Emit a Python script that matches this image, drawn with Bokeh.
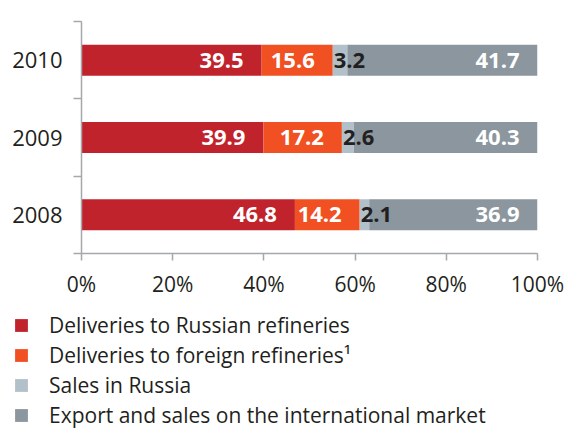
from bokeh.plotting import figure
from bokeh.layouts import column
from bokeh.models import (ColumnDataSource, Range1d, FixedTicker, Legend, LegendItem)
from bokeh.core.properties import value
from bokeh.embed import file_html
from bokeh.resources import INLINE

years = ["2008", "2009", "2010"]
series_names = ["Deliveries to Russian refineries",
                "Deliveries to foreign refineries\u00b9",
                "Sales in Russia",
                "Export and sales on the international market"]
russian_refineries = [46.8, 39.9, 39.5]
foreign_refineries = [14.2, 17.2, 15.6]
sales_russia = [2.1, 2.6, 3.2]
export_sales = [36.9, 40.3, 41.7]
x_ticks = [0, 20, 40, 60, 80, 100]
x_tick_labels = ["0%", "20%", "40%", "60%", "80%", "100%"]

colors = ["#c1232d", "#f15022", "#b2c0c9", "#8b969e"]
keys = ["rus", "for", "sal", "exp"]
FONT = "Open Sans"
TXT = "#231f20"
AX = "#a5a7aa"

ypos = [i + 0.5 for i in range(len(years))]
data = dict(y=ypos, rus=russian_refineries, **{"for": foreign_refineries},
            sal=sales_russia, exp=export_sales)
source = ColumnDataSource(data)

p = figure(width=567, height=300, output_backend="svg", toolbar_location=None,
           x_range=Range1d(0, 100), y_range=Range1d(0, len(years)),
           min_border_left=81, min_border_right=30, min_border_top=21,
           min_border_bottom=47)
p.outline_line_color = None
p.xgrid.visible = False
p.ygrid.visible = False
p.background_fill_color = "white"
p.border_fill_color = "white"

renderers = p.hbar_stack(keys, y="y", height=0.4, color=colors, source=source,
                         line_color=None)

# value labels
lab_x, lab_y, lab_t, lab_align, lab_col, lab_off = [], [], [], [], [], []
vals = [russian_refineries, foreign_refineries, sales_russia, export_sales]
for i in range(len(years)):
    left = 0.0
    for s, arr in enumerate(vals):
        v = arr[i]
        if s == 2:
            lab_x.append(left); lab_align.append("left"); lab_col.append(TXT); lab_off.append(1)
        else:
            lab_x.append(left + v); lab_align.append("right"); lab_col.append("white"); lab_off.append(-18)
        lab_y.append(ypos[i]); lab_t.append(f"{v:.1f}")
        left += v
lsrc = ColumnDataSource(dict(x=lab_x, y=lab_y, t=lab_t, a=lab_align, c=lab_col, o=lab_off))
p.text(x="x", y="y", text="t", source=lsrc, text_align="a", text_color="c",
       x_offset="o", text_baseline="middle", text_font=value(FONT),
       text_font_style="bold", text_font_size="22px")

# x axis
xa = p.xaxis[0]
xa.ticker = FixedTicker(ticks=x_ticks)
xa.major_label_overrides = {t: l for t, l in zip(x_ticks, x_tick_labels)}
xa.minor_tick_line_color = None
xa.major_tick_out = 7
xa.major_tick_in = 0
xa.axis_line_color = AX
xa.major_tick_line_color = AX
xa.axis_line_width = 1.5
xa.major_tick_line_width = 1.5
xa.major_label_text_font = FONT
xa.major_label_text_font_size = "21px"
xa.major_label_text_color = TXT
xa.major_label_standoff = 9

# y axis
ya = p.yaxis[0]
ya.ticker = FixedTicker(ticks=ypos, minor_ticks=list(range(len(years) + 1)))
ya.major_label_overrides = {y: t for y, t in zip(ypos, years)}
ya.major_tick_out = 0
ya.major_tick_in = 0
ya.minor_tick_out = 8
ya.minor_tick_in = 0
ya.axis_line_color = AX
ya.minor_tick_line_color = AX
ya.axis_line_width = 1.5
ya.minor_tick_line_width = 1.5
ya.major_label_text_font = FONT
ya.major_label_text_font_size = "22px"
ya.major_label_text_color = TXT
ya.major_label_standoff = 11

# legend panel
pl = figure(width=567, height=130, output_backend="svg", toolbar_location=None,
            x_range=Range1d(0, 1), y_range=Range1d(0, 1),
            min_border_left=0, min_border_right=0, min_border_top=0, min_border_bottom=0)
pl.axis.visible = False
pl.grid.visible = False
pl.outline_line_color = None
pl.border_fill_color = "white"
for fig in (p, pl):
    try:
        fig.frame_align = False
    except Exception:
        pass
offscreen = ColumnDataSource(dict(x=[-5], y=[-5]))
swatches = [pl.rect(x="x", y="y", width=0.1, height=0.1, fill_color=c, line_color=None,
                    source=offscreen) for c in colors]
legend = Legend(items=[LegendItem(label=n, renderers=[r]) for n, r in zip(series_names, swatches)],
                location=(13, 0), orientation="vertical",
                glyph_width=16, glyph_height=16, label_height=30, spacing=0,
                padding=0, margin=0, label_standoff=20,
                label_text_font=FONT, label_text_font_size="21px",
                label_text_color=TXT, border_line_color=None,
                background_fill_alpha=0)
pl.add_layout(legend)

layout = column(p, pl, spacing=0)
open("out.html", "w").write(file_html(layout, INLINE))
